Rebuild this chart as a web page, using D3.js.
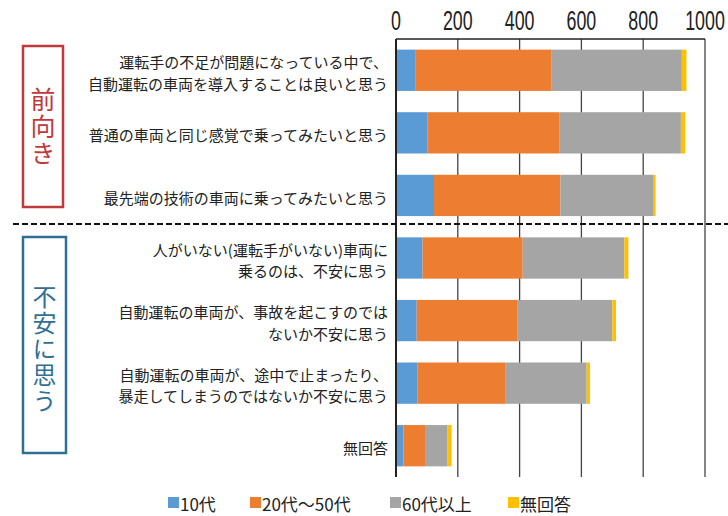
<!DOCTYPE html>
<html>
<head>
<meta charset="utf-8">
<script src="https://cdn.jsdelivr.net/npm/d3@7"></script>
<style>
  body { margin: 0; background: #fff; }
  text { font-family: "Noto Sans CJK JP", sans-serif; }
</style>
</head>
<body>
<svg id="chart" width="728" height="516"></svg>
<script>
// categories (each label split into lines)
const categories = [
  ["運転手の不足が問題になっている中で、", "自動運転の車両を導入することは良いと思う"],
  ["普通の車両と同じ感覚で乗ってみたいと思う"],
  ["最先端の技術の車両に乗ってみたいと思う"],
  ["人がいない(運転手がいない)車両に", "乗るのは、不安に思う"],
  ["自動運転の車両が、事故を起こすのでは", "ないか不安に思う"],
  ["自動運転の車両が、途中で止まったり、", "暴走してしまうのではないか不安に思う"],
  ["無回答"]
];
const seriesNames = ["10代", "20代～50代", "60代以上", "無回答"];
const teens = [64, 101, 123, 86, 67, 70, 24];
const adults = [438, 427, 409, 324, 327, 283, 70];
const seniors = [423, 394, 302, 329, 306, 264, 73];
const noAnswer = [15, 14, 6, 13, 12, 11, 13];
const tickValues = [0, 200, 400, 600, 800, 1000];
const colors = ["#5b9bd5", "#ed7d31", "#a5a5a5", "#ffc000"];

const svg = d3.select("#chart");
const margin = { top: 39, left: 396, right: 23, bottom: 39 };
const width = 728, height = 516;

const xScale = d3.scaleLinear().domain([0, 1000]).range([margin.left, width - margin.right]);
const yScale = d3.scaleBand().domain(d3.range(categories.length))
  .range([margin.top, height - margin.bottom]).paddingInner(0.34).paddingOuter(0.17);

const rows = categories.map((c, i) => ({ i: i, vals: [teens[i], adults[i], seniors[i], noAnswer[i]] }));
const stack = d3.stack().keys([0, 1, 2, 3]).value((d, k) => d.vals[k]);
const stacked = stack(rows);

// gridlines
svg.append("g").selectAll("line").data(tickValues).join("line")
  .attr("x1", d => xScale(d)).attr("x2", d => xScale(d))
  .attr("y1", margin.top).attr("y2", height - margin.bottom)
  .attr("stroke", "#444").attr("stroke-width", 1.3);

// top border
svg.append("line").attr("x1", xScale(0)).attr("x2", xScale(1000))
  .attr("y1", margin.top).attr("y2", margin.top)
  .attr("stroke", "#222").attr("stroke-width", 1.5);

// bars
svg.append("g").selectAll("g").data(stacked).join("g")
  .attr("fill", (d, k) => colors[k])
  .selectAll("rect").data(d => d).join("rect")
  .attr("x", d => xScale(d[0]))
  .attr("width", d => xScale(d[1]) - xScale(d[0]))
  .attr("y", d => yScale(d.data.i))
  .attr("height", yScale.bandwidth());

// left axis line
svg.append("line").attr("x1", xScale(0)).attr("x2", xScale(0))
  .attr("y1", margin.top).attr("y2", height - margin.bottom)
  .attr("stroke", "#222").attr("stroke-width", 2);

// top tick labels (condensed digits)
svg.append("g").selectAll("text").data(tickValues).join("text")
  .attr("transform", d => `translate(${xScale(d)},30) scale(0.66,1)`)
  .attr("text-anchor", "middle")
  .style("font-family", "'Liberation Sans', sans-serif")
  .style("font-size", "27px").attr("fill", "#222")
  .text(d => d);

// category labels
const lineH = 21.5;
svg.append("g").selectAll("text").data(categories).join("text")
  .attr("text-anchor", "end")
  .attr("fill", "#222")
  .style("font-size", "15px")
  .each(function (lines, i) {
    const cy = yScale(i) + yScale.bandwidth() / 2 + 2;
    const y0 = cy - (lines.length - 1) * lineH / 2;
    d3.select(this).selectAll("tspan").data(lines).join("tspan")
      .attr("x", 388).attr("y", (d, j) => y0 + j * lineH)
      .attr("dominant-baseline", "central")
      .text(d => d);
  });

// dashed separator
svg.append("line").attr("x1", 13).attr("x2", 728).attr("y1", 224).attr("y2", 224)
  .attr("stroke", "#111").attr("stroke-width", 2).attr("stroke-dasharray", "6,3");

// group boxes with vertical text
const groups = [
  { label: "前向き", color: "#c0393b", x: 23, y: 46, w: 40, h: 161, cy: 127, size: 25, gap: 2 },
  { label: "不安に思う", color: "#2f6f95", x: 23, y: 237, w: 43, h: 216, cy: 350, size: 24, gap: 2 }
];
groups.forEach(g => {
  svg.append("rect").attr("x", g.x).attr("y", g.y).attr("width", g.w).attr("height", g.h)
    .attr("fill", "none").attr("stroke", g.color).attr("stroke-width", 2.5);
  svg.append("text")
    .attr("x", g.x + g.w / 2).attr("y", g.cy)
    .attr("text-anchor", "middle")
    .style("writing-mode", "vertical-rl")
    .style("letter-spacing", g.gap + "px")
    .attr("fill", g.color).style("font-size", g.size + "px")
    .text(g.label);
});

// legend
const legendX = [168, 250, 390, 508];
const legend = svg.append("g").selectAll("g").data(seriesNames).join("g")
  .attr("transform", (d, k) => `translate(${legendX[k]},503)`);
legend.append("rect").attr("x", 0).attr("y", -6).attr("width", 11).attr("height", 11)
  .attr("fill", (d, k) => colors[k]);
legend.append("text").attr("x", 12).attr("y", 0).attr("dominant-baseline", "central")
  .attr("fill", "#222").style("font-size", "17px").text(d => d);
</script>
</body>
</html>
